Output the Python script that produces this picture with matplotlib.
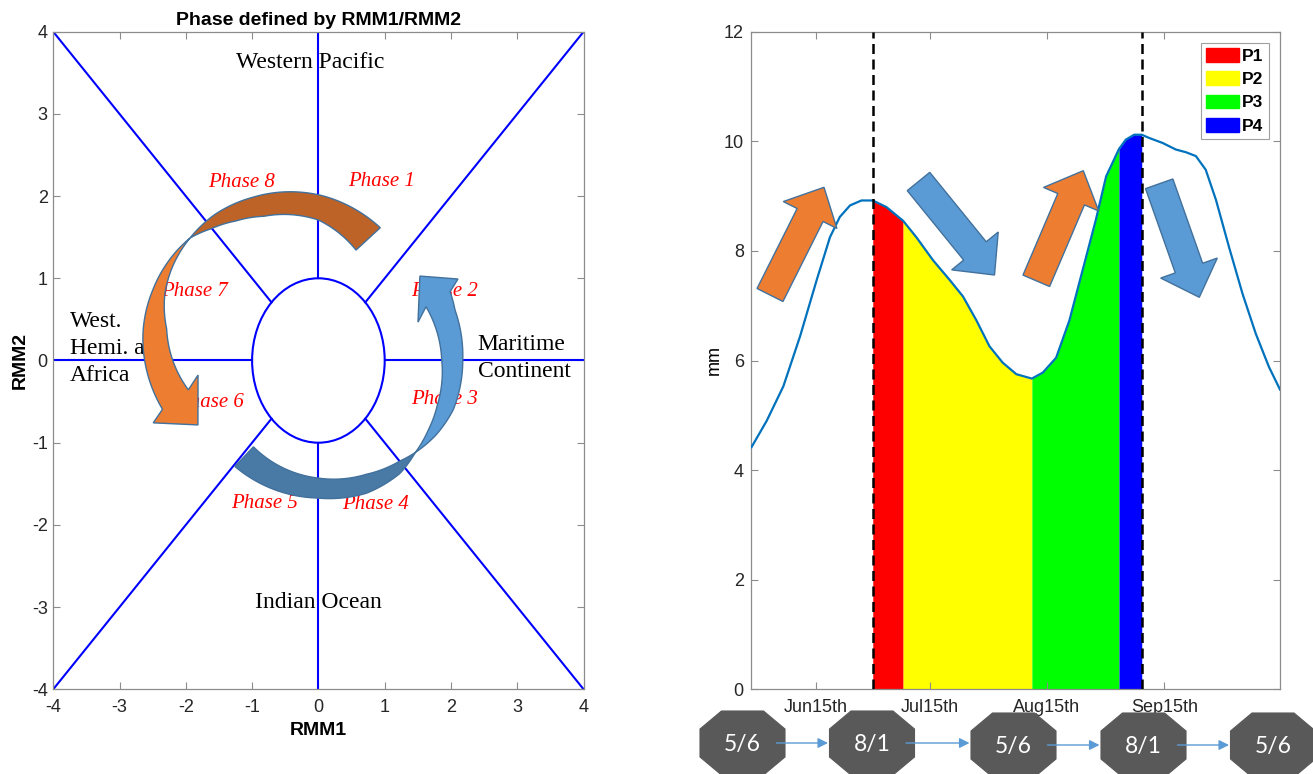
"""RMM phase diagram (left) and monsoon rainfall split into MJO phases (right)."""
import numpy as np
import matplotlib
matplotlib.use("Agg")
import matplotlib.pyplot as plt
from matplotlib.patches import Ellipse, FancyArrow, Patch, Polygon

W, H = 1313, 774

# ---- left panel: labels on the RMM1/RMM2 plane
region_text = ["Western Pacific", "Indian Ocean", "West.\nHemi. and\nAfrica", "Maritime\nContinent"]
region_x = [-0.13, 0.0, -3.75, 2.40]
region_y = [3.62, -2.95, 0.15, 0.03]
region_ha = ["center", "center", "left", "left"]

phase_text = ["Phase 1", "Phase 2", "Phase 3", "Phase 4",
              "Phase 5", "Phase 6", "Phase 7", "Phase 8"]
phase_x = [0.95, 1.90, 1.90, 0.86, -0.81, -1.63, -1.87, -1.16]
phase_y = [2.18, 0.84, -0.48, -1.75, -1.74, -0.51, 0.84, 2.16]

# ---- right panel: rainfall (mm) by day of year
day = [149.0, 153.0, 157.4, 161.8, 166.2, 169.7, 172.3, 175.0, 178.0, 181.0,
       184.6, 189.0, 192.5, 196.9, 201.3, 204.8, 208.3, 211.8, 215.3, 218.9,
       223.0, 225.9, 229.4, 232.9, 236.4, 239.9, 242.6, 246.0, 247.8, 250.0,
       252.0, 254.0, 257.5, 261.0, 263.7, 266.3, 268.9, 271.6, 275.0, 278.6,
       282.1, 285.6, 288.5]
rain = [4.42, 4.90, 5.53, 6.44, 7.47, 8.25, 8.62, 8.83, 8.92, 8.92,
        8.80, 8.55, 8.25, 7.83, 7.47, 7.17, 6.74, 6.26, 5.96, 5.75,
        5.67, 5.78, 6.05, 6.73, 7.65, 8.57, 9.36, 9.86, 10.03, 10.12,
        10.12, 10.06, 9.97, 9.85, 9.80, 9.73, 9.48, 8.93, 8.08, 7.22,
        6.49, 5.88, 5.47]
tick_days = [166, 196, 227, 258]
tick_names = ["Jun15th", "Jul15th", "Aug15th", "Sep15th"]
phase_edges = [181, 189, 223, 246, 252]
phase_names = ["P1", "P2", "P3", "P4"]
phase_colors = ["#FF0000", "#FFFF00", "#00FF00", "#0000FF"]
peak_days = [181, 252]

# phase sequence shown under the right panel
sequence = ["5/6", "8/1", "5/6", "8/1", "5/6"]
seq_x = [742.5, 872, 1013.5, 1143.5, 1273]
seq_y = [743, 743, 745, 745, 745]

plt.rcParams["font.family"] = "Liberation Sans"
plt.rcParams["axes.unicode_minus"] = False
GRAY = "#8c8c8c"
OUTLINE = "#41719C"


def style(ax, ypad):
    ax.tick_params(direction="in", top=True, right=True, length=5, width=0.8,
                   color=GRAY, labelsize=13, labelcolor="#262626")
    ax.tick_params(axis="x", pad=7)
    ax.tick_params(axis="y", pad=ypad)
    for s in ax.spines.values():
        s.set_color(GRAY)
        s.set_linewidth(0.9)


fig = plt.figure(figsize=(W / 100, H / 100), dpi=100)
ax_l = fig.add_axes([53.2 / W, 1 - 689.3 / H, 530.4 / W, 657.6 / H])
ax_r = fig.add_axes([750.8 / W, 1 - 689.3 / H, 529.2 / W, 657.6 / H])

# ---------------- left: phase space
for ang in range(0, 360, 45):
    c, s = np.cos(np.radians(ang)), np.sin(np.radians(ang))
    k = 4 / max(abs(c), abs(s))
    ax_l.plot([c, k * c], [s, k * s], color="#0000FF", lw=1.5, zorder=2)
ax_l.add_patch(Ellipse((0, 0), 2, 2, fill=False, ec="#0000FF", lw=1.5, zorder=2))

for t, x, y, ha in zip(region_text, region_x, region_y, region_ha):
    ax_l.text(x, y, t, ha=ha, va="center", family="Liberation Serif",
              fontsize=17, linespacing=1.37, zorder=3)
for t, x, y in zip(phase_text, phase_x, phase_y):
    ax_l.text(x, y, t, ha="center", va="center", family="Liberation Serif",
              style="italic", fontsize=15, color="#FF0000", zorder=3)

ax_l.set_xlim(-4, 4)
ax_l.set_ylim(-4, 4)
ax_l.set_xticks(range(-4, 5))
ax_l.set_yticks(range(-4, 5))
ax_l.set_xlabel("RMM1", fontsize=14, fontweight="bold", labelpad=4)
ax_l.set_ylabel("RMM2", fontsize=14, fontweight="bold", labelpad=2)
ax_l.set_title("Phase defined by RMM1/RMM2", fontsize=14, fontweight="bold", pad=5)
style(ax_l, 4)

# ---------------- right: rainfall
d = np.asarray(day)
r = np.asarray(rain)
for i, (name, col) in enumerate(zip(phase_names, phase_colors)):
    m = (d >= phase_edges[i]) & (d <= phase_edges[i + 1])
    ax_r.fill_between(d, 0, r, where=m, color=col, lw=0, label=name, zorder=1)
ax_r.plot(d, r, color="#0072BD", lw=1.6, zorder=3)
for pk in peak_days:
    ax_r.axvline(pk, color="k", ls=(0, (4.0, 2.2)), lw=1.8, zorder=4)

ax_r.set_xlim(148.8, 288.5)
ax_r.set_ylim(0, 12)
ax_r.set_xticks(tick_days)
ax_r.set_xticklabels(tick_names)
ax_r.set_yticks(range(0, 13, 2))
ax_r.set_ylabel("mm", fontsize=13, labelpad=1)
style(ax_r, 5)
handles = [Patch(fc=c, ec=c, label=n) for n, c in zip(phase_names, phase_colors)]
leg = ax_r.legend(handles=handles, loc="upper right", bbox_to_anchor=(0.979, 0.983),
                  borderaxespad=0, prop={"weight": "bold", "size": 12.5},
                  handlelength=1.9, handleheight=0.85, handletextpad=0.2,
                  labelspacing=0.42, borderpad=0.3, fancybox=False, framealpha=1)
leg.get_frame().set_edgecolor("#a0a0a0")
leg.get_frame().set_linewidth(0.8)

# ---------------- overlay in pixel units for the drawn shapes
ov = fig.add_axes([0, 0, 1, 1])
ov.set_xlim(0, W)
ov.set_ylim(H, 0)
ov.axis("off")


def pt(cx, cy, phi, rad):
    a = np.radians(phi)
    return [cx + rad * np.cos(a), cy - rad * np.sin(a)]


def band(cx, cy, outer, inner, n=90):
    """Curved strip between two radius profiles given as (angles, radii)."""
    t = np.linspace(outer[0][0], outer[0][-1], n)
    a = np.radians(t)
    ro = np.interp(t, *outer)
    ri = np.interp(t, *inner)
    o = np.column_stack([cx + ro * np.cos(a), cy - ro * np.sin(a)])
    i = np.column_stack([cx + ri * np.cos(a), cy - ri * np.sin(a)])
    return o, i


def curved_arrow(cx, cy, back, front, head, c_back, c_front):
    o, i = band(cx, cy, *back)
    ov.add_patch(Polygon(np.vstack([o, i[::-1]]), fc=c_back, ec=OUTLINE, lw=1))
    o, i = band(cx, cy, *front)
    tip = np.array([pt(cx, cy, *p) for p in head])
    ov.add_patch(Polygon(np.vstack([o, tip, i[::-1]]), fc=c_front, ec=OUTLINE, lw=1))


# orange arrow: 8 -> 7 -> 6
curved_arrow(277, 323,
             (([42.7, 71, 101, 120, 135.7], [140.5, 135, 128, 125, 121.6]),
              ([42.7, 68, 97, 112, 125, 135.7], [107.5, 111, 107.5, 110, 115, 121.6])),
             (([135.7, 150.7, 165, 183, 217], [121.6, 125, 128.5, 134, 143.4]),
              ([135.7, 150, 165, 183, 217], [121.6, 119, 116, 110.5, 111])),
             [(218.9, 159), (232.2, 129), (213.4, 94.6)],
             "#BD6328", "#ED7D31")
# blue arrow: 5 -> 4 -> 3 -> 2
curved_arrow(328, 368,
             (([226.6, 264.8, 287, 304.4, 316], [135.5, 130.5, 131, 127.6, 121.5]),
              ([226.6, 264.8, 290, 307.5, 316], [108.5, 110.5, 113, 117.5, 121.5])),
             (([316, 328, 341.5, 363.4, 384.5, 392], [121.5, 127, 132, 135, 139.6, 144]),
              ([316, 328, 341, 364, 392], [121.5, 118, 115.5, 114, 115.6])),
             [(394.4, 157.5), (405, 130), (387, 101)],
             "#487AA5", "#5B9BD5")

# straight block arrows over the rainfall curve (tail, tip, colour)
blocks = [((770, 295), (824, 187.3), "#ED7D31"),
          ((918.5, 181.5), (994.5, 275), "#5B9BD5"),
          ((1036.3, 280.8), (1083.3, 170.7), "#ED7D31"),
          ((1159.2, 183.8), (1199.3, 297.3), "#5B9BD5")]
for (x0, y0), (x1, y1), col in blocks:
    ov.add_patch(FancyArrow(x0, y0, x1 - x0, y1 - y0, width=29, head_width=60,
                            head_length=31, length_includes_head=True,
                            fc=col, ec=OUTLINE, lw=1))

# octagon sequence
octo = np.array([(-21, -32), (21, -32), (42.5, -14), (42.5, 14),
                 (21, 32), (-21, 32), (-42.5, 14), (-42.5, -14)])
for lab, x, y in zip(sequence, seq_x, seq_y):
    ov.add_patch(Polygon(octo + [x, y], fc="#595959", ec="#595959", lw=0.8))
    ov.text(x, y + 1, lab, ha="center", va="center", color="white",
            family="Lato", fontsize=16.5)
for k in range(len(seq_x) - 1):
    ov.annotate("", xy=(seq_x[k + 1] - 44, seq_y[k]), xytext=(seq_x[k] + 34, seq_y[k]),
                arrowprops=dict(arrowstyle="-|>", color="#5B9BD5", lw=1,
                                mutation_scale=15, shrinkA=0, shrinkB=0))

fig.savefig("out.png", dpi=100)
